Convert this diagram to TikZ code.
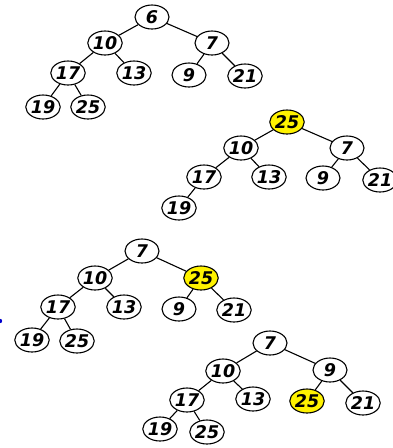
\documentclass[tikz,border=0pt]{standalone}
\usepackage{fontspec}
\setmainfont{DejaVu Sans}
\usetikzlibrary{shapes.geometric}
\begin{document}
\begin{tikzpicture}[x=1pt,y=-1pt,
  hn/.style={draw,ellipse,line width=1.1pt,minimum width=34pt,minimum height=24pt,inner sep=0pt,
    font=\fontsize{17.5}{18}\selectfont\bfseries\itshape,fill=white},
  hl/.style={hn,fill=yellow},
  ed/.style={line width=1.1pt}]
\useasboundingbox (0,0) rectangle (393,448);
% tree 1
\node[hn] (a1) at (152,17) {6};
\node[hn] (a2) at (105,43) {10};
\node[hn] (a3) at (212,43) {7};
\node[hn] (a4) at (68,73) {17};
\node[hn] (a5) at (134,73) {13};
\node[hn] (a6) at (189,75) {9};
\node[hn] (a7) at (245,76) {21};
\node[hn] (a8) at (43,107) {19};
\node[hn] (a9) at (88,107) {25};
\draw[ed] (a1)--(a2) (a1)--(a3) (a2)--(a4) (a2)--(a5) (a3)--(a6) (a3)--(a7) (a4)--(a8) (a4)--(a9);
% tree 2
\node[hl] (b1) at (287,122) {25};
\node[hn] (b2) at (241,148) {10};
\node[hn] (b3) at (347,148) {7};
\node[hn] (b4) at (204,177) {17};
\node[hn] (b5) at (269,177) {13};
\node[hn] (b6) at (323,178) {9};
\node[hn] (b7) at (380,180) {21};
\node[hn] (b8) at (179,208) {19};
\draw[ed] (b1)--(b2) (b1)--(b3) (b2)--(b4) (b2)--(b5) (b3)--(b6) (b3)--(b7) (b4)--(b8);
% tree 3
\node[hn] (c1) at (142,251) {7};
\node[hn] (c2) at (95,278) {10};
\node[hl] (c3) at (201,278) {25};
\node[hn] (c4) at (58,307) {17};
\node[hn] (c5) at (124,307) {13};
\node[hn] (c6) at (179,309) {9};
\node[hn] (c7) at (234,310) {21};
\node[hn] (c8) at (32,340) {19};
\node[hn] (c9) at (77,341) {25};
\draw[ed] (c1)--(c2) (c1)--(c3) (c2)--(c4) (c2)--(c5) (c3)--(c6) (c3)--(c7) (c4)--(c8) (c4)--(c9);
% tree 4
\node[hn] (d1) at (270,343) {7};
\node[hn] (d2) at (223,371) {10};
\node[hn] (d3) at (330,370) {9};
\node[hn] (d4) at (187,400) {17};
\node[hn] (d5) at (253,399) {13};
\node[hl] (d6) at (307,401) {25};
\node[hn] (d7) at (363,403) {21};
\node[hn] (d8) at (160,429) {19};
\node[hn] (d9) at (207,432) {25};
\draw[ed] (d1)--(d2) (d1)--(d3) (d2)--(d4) (d2)--(d5) (d3)--(d6) (d3)--(d7) (d4)--(d8) (d4)--(d9);
% small blue mark at left edge
\fill[blue!80!black] (0,321) circle (2.2pt);
\end{tikzpicture}
\end{document}
